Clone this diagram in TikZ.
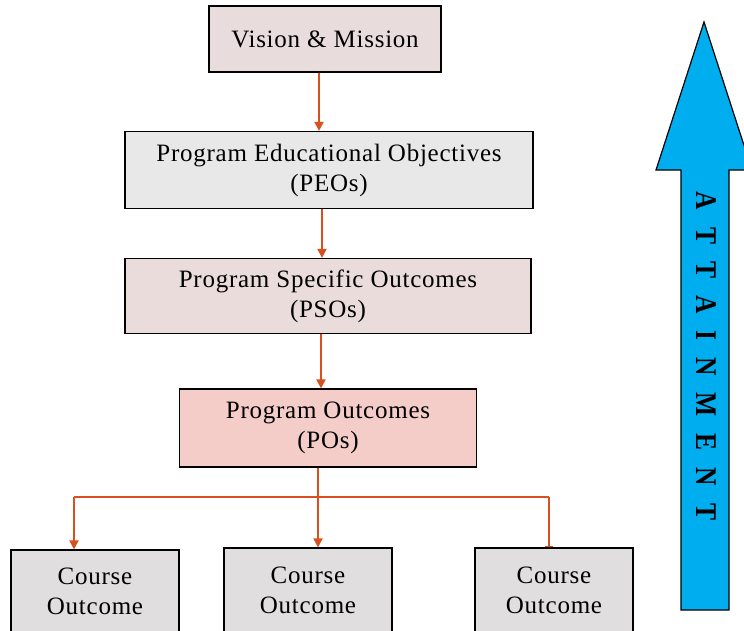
\documentclass[tikz,border=0pt]{standalone}
\usepackage{fontspec}
\setmainfont{Liberation Serif}
\usetikzlibrary{positioning,arrows.meta}

\definecolor{linkred}{HTML}{D9501E}
\definecolor{visionfill}{HTML}{E8DCDC}
\definecolor{peofill}{HTML}{E8E8E8}
\definecolor{psofill}{HTML}{EADCDA}
\definecolor{pofill}{HTML}{F4CCC8}
\definecolor{cofill}{HTML}{E0DEDF}
\definecolor{attcyan}{HTML}{00AEEF}

\newfontfamily\boxfont[LetterSpace=3]{Liberation Serif}

\tikzset{
    levelbox/.style={draw, rectangle, line width=1.2pt, align=center, inner sep=0pt,
        font=\boxfont\fontsize{25}{30}\selectfont},
    link/.style={draw=linkred, line width=1.8pt, -{Triangle[length=9pt,width=9pt]}},
}

\begin{document}
\begin{tikzpicture}[x=1pt, y=-1pt]
    \useasboundingbox (0,0) rectangle (744,630);

    % Top level
    \node[levelbox, fill=visionfill, minimum width=232pt, minimum height=66pt] (vision) at (325,39) {Vision \& Mission};

    % Program level
    \node[levelbox, fill=peofill, minimum width=408pt, minimum height=77pt] (peo) at (329,170) {Program Educational Objectives\\(PEOs)};
    \node[levelbox, fill=psofill, minimum width=406pt, minimum height=75pt] (pso) at (328,296) {Program Specific Outcomes\\(PSOs)};
    \node[levelbox, fill=pofill, minimum width=297pt, minimum height=78pt] (po) at (328,428) {Program Outcomes\\(POs)};

    % Course level
    \node[levelbox, fill=cofill, minimum width=168pt, minimum height=82pt] (co1) at (95,591) {Course\\Outcome};
    \node[levelbox, fill=cofill, minimum width=168pt, minimum height=84pt] (co2) at (308,590) {Course\\Outcome};
    \node[levelbox, fill=cofill, minimum width=158pt, minimum height=84pt] (co3) at (554,590) {Course\\Outcome};

    % Branch points
    \coordinate (split) at (318,497);
    \coordinate (left) at (74,497);
    \coordinate (right) at (549,497);

    % Arrows
    \draw[link] (vision.south -| 319,0) -- (peo.north -| 319,0);
    \draw[link] (peo.south -| 322,0) -- (pso.north -| 322,0);
    \draw[link] (pso.south -| 321,0) -- (po.north -| 321,0);
    \draw[draw=linkred, line width=1.8pt] (po.south -| split) -- (split);
    \draw[draw=linkred, line width=1.8pt] (left) -- (right);
    \draw[link] (left) -- (co1.north -| left);
    \draw[link] (split) -- (co2.north -| split);
    \draw[draw=linkred, line width=1.8pt, -{Bar[width=8pt]}] (right) -- (co3.north -| right);

    % Attainment arrow
    \draw[line width=1.2pt, fill=attcyan] (681,610) -- (681,170) -- (656,170) -- (704,22)
        -- (752,170) -- (729,170) -- (729,610) -- cycle;
    \node[rotate=-90, xscale=0.85, font=\bfseries\fontsize{30}{34}\selectfont] (attain) at (706,356)
        {A\hspace{20pt}T\hspace{20pt}T\hspace{20pt}A\hspace{20pt}I\hspace{20pt}N\hspace{20pt}M\hspace{20pt}E\hspace{20pt}N\hspace{20pt}T};
\end{tikzpicture}
\end{document}
